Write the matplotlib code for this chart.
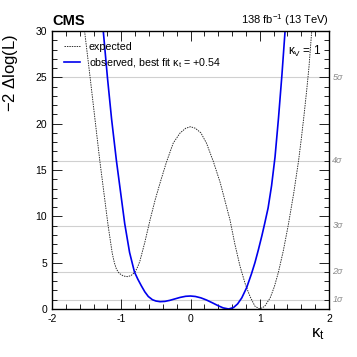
import matplotlib.pyplot as plt

plt.rcParams['font.family'] = ['Liberation Sans', 'DejaVu Sans']
plt.rcParams['mathtext.fontset'] = 'custom'
plt.rcParams['mathtext.rm'] = 'Liberation Sans'
plt.rcParams['mathtext.it'] = 'Liberation Sans'
plt.rcParams['axes.unicode_minus'] = False

# expected -2 dlogL scan
exp_kt = [-1.53, -1.49, -1.45, -1.38, -1.31, -1.25, -1.19, -1.13, -1.10, -1.07,
          -1.03, -0.97, -0.91, -0.86, -0.80, -0.76, -0.73, -0.66, -0.585, -0.51,
          -0.44, -0.35, -0.25, -0.15, -0.07, 0.00, 0.07, 0.15, 0.23, 0.33,
          0.43, 0.50, 0.57, 0.64, 0.715, 0.79, 0.86, 0.93, 1.00, 1.07,
          1.15, 1.21, 1.27, 1.34, 1.41, 1.49, 1.56, 1.60, 1.64, 1.68,
          1.71, 1.75]
exp_nll = [30.0, 27.5, 25.0, 20.5, 16.0, 12.5, 9.0, 6.0, 5.0, 4.3,
           3.85, 3.56, 3.49, 3.6, 4.0, 4.6, 5.2, 7.2, 9.6, 11.8,
           13.6, 15.8, 17.9, 19.0, 19.5, 19.67, 19.5, 19.0, 17.9, 15.9,
           13.6, 11.6, 9.6, 7.0, 4.6, 2.7, 1.33, 0.3, 0.0, 0.28,
           1.2, 2.4, 4.0, 6.3, 9.0, 12.5, 16.0, 18.4, 21.0, 23.8,
           26.1, 30.0]

# observed -2 dlogL scan
obs_kt = [-1.26, -1.23, -1.20, -1.14, -1.07, -1.01, -0.95, -0.88, -0.81, -0.76,
          -0.71, -0.66, -0.61, -0.55, -0.50, -0.44, -0.37, -0.30, -0.22, -0.15,
          -0.07, 0.00, 0.07, 0.15, 0.23, 0.32, 0.40, 0.47, 0.55, 0.62,
          0.68, 0.74, 0.81, 0.88, 0.93, 0.98, 1.03, 1.07, 1.12, 1.17,
          1.22, 1.27, 1.32, 1.365]
obs_nll = [30.0, 27.5, 25.0, 20.5, 16.0, 12.6, 9.2, 6.1, 4.0, 3.2,
           2.5, 1.85, 1.35, 1.0, 0.86, 0.79, 0.82, 0.93, 1.1, 1.25,
           1.37, 1.4, 1.35, 1.2, 0.97, 0.65, 0.35, 0.12, 0.0, 0.15,
           0.55, 1.2, 2.3, 3.8, 5.0, 6.4, 7.9, 9.2, 10.9, 13.3,
           16.4, 20.6, 25.3, 30.0]

sigma_levels = [1, 4, 9, 16, 25]
sigma_labels = ['1σ', '2σ', '3σ', '4σ', '5σ']

fig = plt.figure(figsize=(3.57, 3.57), dpi=100)
ax = fig.add_axes([0.1457, 0.1345, 0.776, 0.7787])

for lev in sigma_levels:
    ax.axhline(lev, color='#d0d0d0', lw=0.8, zorder=0)

ax.plot(exp_kt, exp_nll, color='#222222', ls=(0, (1.6, 1.1)), lw=0.65,
        label='expected')
ax.plot(obs_kt, obs_nll, color='#0000ee', lw=1.2,
        label='observed, best fit $\\kappa_{t}$ = +0.54')

ax.set_xlim(-2, 2)
ax.set_ylim(0, 30)
ax.set_xticks([-2, -1, 0, 1, 2])
ax.set_xticks([x / 5 for x in range(-10, 11)], minor=True)
ax.set_yticks([0, 5, 10, 15, 20, 25, 30])
ax.set_yticks(range(0, 31), minor=True)
ax.tick_params(which='both', direction='in', top=True, right=True,
               labelsize=7.5, width=0.6)
ax.tick_params(which='major', length=7)
ax.tick_params(which='minor', length=3.5)
for s in ax.spines.values():
    s.set_linewidth(1.0)

for lev, lab in zip(sigma_levels, sigma_labels):
    ax.text(1.012, lev, lab, transform=ax.get_yaxis_transform(),
            color='#888888', fontsize=6.5, va='center', ha='left',
            style='italic')

ax.set_ylabel('$-$2 $\\Delta$log(L)', fontsize=12)
ax.yaxis.set_label_coords(-0.115, 0.85)
ax.text(0.985, -0.062, '$\\kappa_{t}$', transform=ax.transAxes, fontsize=12,
        ha='right', va='top')

ax.text(0.0, 1.012, 'CMS', transform=ax.transAxes, fontsize=10.5,
        fontweight='bold', ha='left', va='bottom')
ax.text(1.0, 1.012, '138 fb$^{-1}$ (13 TeV)', transform=ax.transAxes,
        fontsize=8, ha='right', va='bottom')
ax.text(0.97, 0.955, '$\\kappa_{V}$ = 1', transform=ax.transAxes,
        fontsize=8.5, ha='right', va='top')

ax.legend(loc='upper left', frameon=False, fontsize=7.7,
          handlelength=1.5, handletextpad=0.8, bbox_to_anchor=(0.02, 0.985),
          borderaxespad=0.2, labelspacing=0.45)

fig.savefig('out.png', dpi=100)
